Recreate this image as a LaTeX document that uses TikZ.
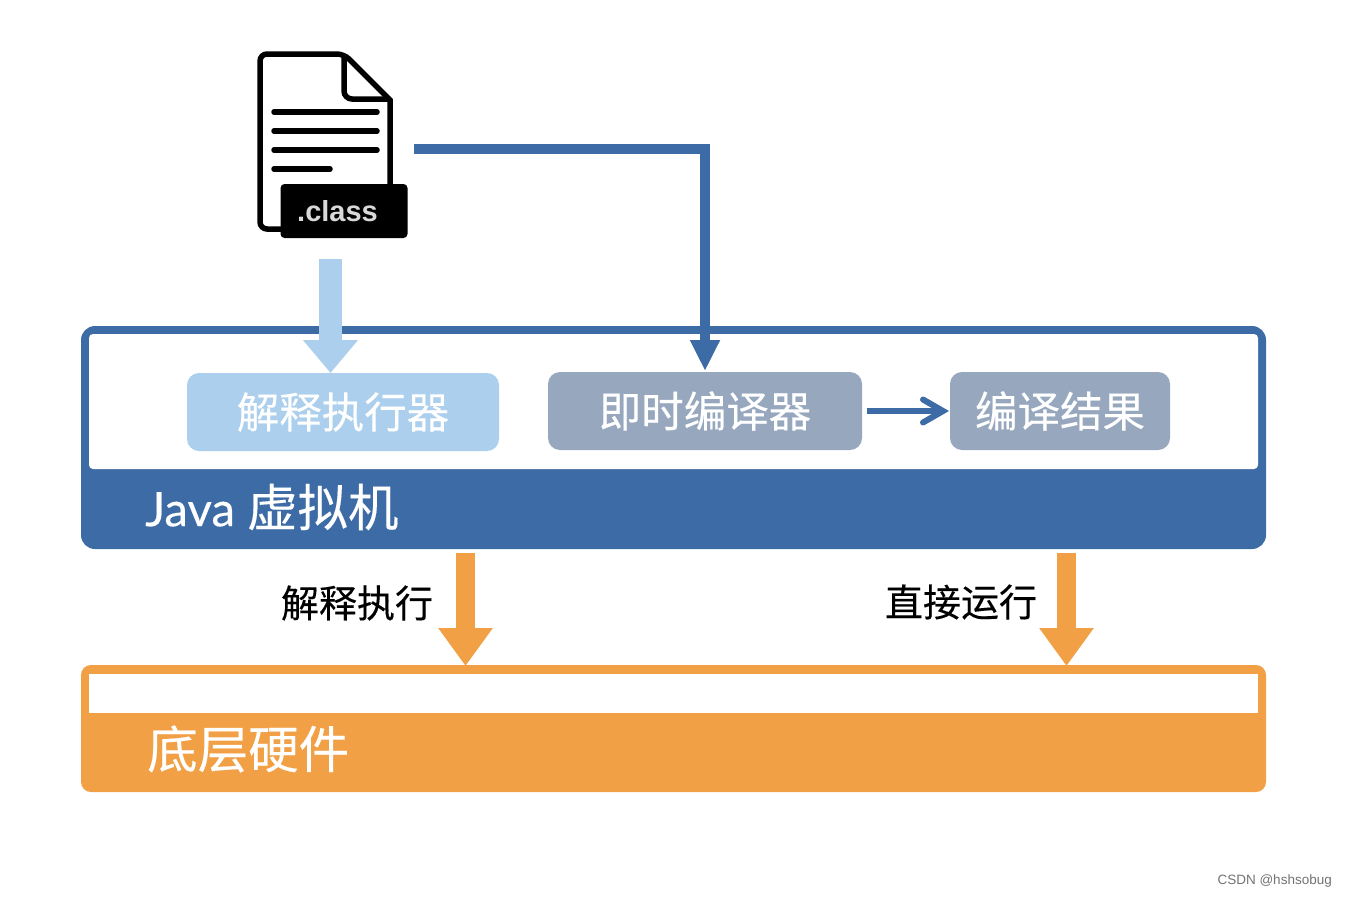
\documentclass[tikz,border=0pt]{standalone}
\usepackage{fontspec}
\setmainfont{Noto Sans CJK SC}[FakeBold=0.25]
\newfontfamily\latinf{Liberation Sans}
\newfontfamily\latino{Lato}[FakeBold=0.2]
\usetikzlibrary{arrows.meta}
\definecolor{jblue}{HTML}{3D6BA6}
\definecolor{lblue}{HTML}{ABCFEC}
\definecolor{gblue}{HTML}{97A8BE}
\definecolor{orng}{HTML}{F2A046}
\tikzset{
  x=1pt,y=-1pt,
  box/.style={rounded corners=12pt,text=white,font=\fontsize{42.5}{42}\selectfont,minimum height=78pt,inner sep=0pt,anchor=center},
  big/.style={text=white,font=\fontsize{50.5}{50}\selectfont,inner sep=0pt,anchor=west},
  lab/.style={text=black,font=\fontsize{38}{38}\selectfont,inner sep=0pt,anchor=center},
  fileline/.style={line width=5.5pt,line cap=round,black},
}
\begin{document}
\begin{tikzpicture}
\useasboundingbox (0,0) rectangle (1346,897);
\fill[white] (0,0) rectangle (1346,897);
% JVM frame
\fill[jblue,rounded corners=14pt] (81,326) rectangle (1266,549);
\fill[white,rounded corners=4pt] (89,334) -- (1258,334) -- (1258,469) -- (89,469) -- cycle;
% hardware frame
\fill[orng,rounded corners=10pt] (81,665) rectangle (1266,792);
\fill[white] (89,674) rectangle (1258,713);
% boxes
\node[box,fill=lblue,minimum width=312pt] (interp) at (343,412) {解释执行器};
\node[box,fill=gblue,minimum width=314pt] (jit) at (705,411) {即时编译器};
\node[box,fill=gblue,minimum width=220pt] (res) at (1060,411) {编译结果};
\node[big] (jvm) at (145,507) {{\latino\fontsize{47.5}{48}\selectfont Java}\hspace{12pt}虚拟机};
\node[big] (hw) at (147,749) {底层硬件};
\node[lab] (l1) at (357,603) {解释执行};
\node[lab] (l2) at (961,602) {直接运行};
% file icon
\draw[line width=5.5pt,black,line join=miter,rounded corners=7pt]
  (290,229) -- (260,229) -- (260,54) -- (344,54) [sharp corners] -- (390,100) -- (390,190);
\draw[line width=5.5pt,black,line join=miter,rounded corners=8pt]
  (344,54) -- (344,99) -- (390,99);
\draw[fileline] (274,112) -- (377,112);
\draw[fileline] (274,131) -- (377,131);
\draw[fileline] (274,150) -- (377,150);
\draw[fileline] (274,169) -- (330,169);
\node[fill=black,rounded corners=4pt,minimum width=127pt,minimum height=54pt,inner sep=0pt] (cls) at (344,211) {};
\node[inner sep=0pt,text=white!85!black,font=\latinf\bfseries\fontsize{29}{29}\selectfont] (clst) at (337.5,211) {.class};
% watermark
\node[inner sep=0pt,anchor=east,text=black!55,font=\latinf\fontsize{13.5}{14}\selectfont] (wm) at (1332,881) {CSDN @hshsobug};
% connector end points
\coordinate (a1s) at (330.5,259);
\coordinate (a1e) at (330.5,373);
\coordinate (jits) at (414,149);
\coordinate (jitc) at (705,149);
\coordinate (jite) at (705,371);
\coordinate (o1s) at (465.5,553);
\coordinate (o1e) at (465.5,666);
\coordinate (o2s) at (1066.5,553);
\coordinate (o2e) at (1066.5,666);
\coordinate (rs) at (867,411);
\coordinate (re) at (942,411);
% connectors
\draw[lblue,line width=23pt,-{Triangle[width=53pt,length=33pt]}] (a1s) -- (a1e);
\draw[jblue,line width=10pt,-{Triangle[width=28pt,length=31pt]}] (jits) -- (jitc) -- (jite);
\draw[orng,line width=19pt,-{Triangle[width=52pt,length=38pt]}] (o1s) -- (o1e);
\draw[orng,line width=19pt,-{Triangle[width=52pt,length=38pt]}] (o2s) -- (o2e);
\draw[jblue,line width=6pt] (rs) -- (re);
\draw[jblue,line width=6pt,line cap=round,line join=miter] (923,399.5) -- (943,411) -- (923,422.5);
\end{tikzpicture}
\end{document}
